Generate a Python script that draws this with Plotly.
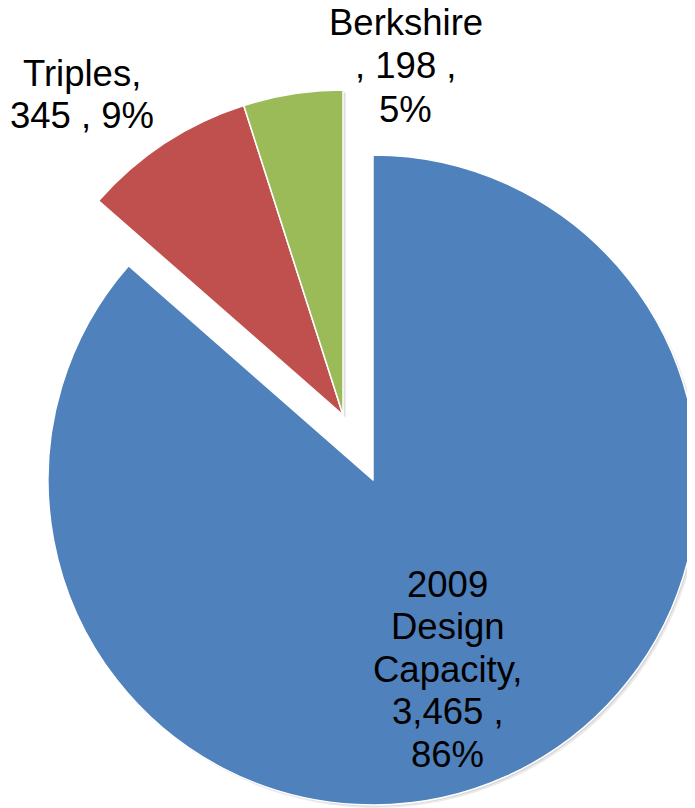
import plotly.graph_objects as go

# ---- data ----
names = ["2009 Design Capacity", "Triples", "Berkshire"]
values = [3465, 345, 198]
colors = ["#4F81BD", "#C0504D", "#9BBB59"]
label_templates = [
    "2009<br>Design<br>Capacity,<br>{v} ,<br>{p}%",
    "Triples,<br>{v} , {p}%",
    "Berkshire<br>, {v} ,<br>{p}%",
]

W, H = 695, 808
OFF = 8  # page body margin
total = sum(values)
pcts = [round(v / total * 100) for v in values]
texts = [t.format(v=f"{v:,}", p=p) for t, v, p in zip(label_templates, values, pcts)]

def clamp(a):
    return max(0.0, min(1.0, a))

def dom(cx, cy, r):
    cx -= OFF
    cy -= OFF
    return dict(x=[clamp((cx - r) / W), clamp((cx + r) / W)],
                y=[clamp(1 - (cy + r) / H), clamp(1 - (cy - r) / H)])

R = 325
BLUE_C = (373, 480)
GROUP_C = (343, 415)
transparent = "rgba(0,0,0,0)"

fig = go.Figure()

# soft shadow layers
for dx, dy, op in [(3, 3, 0.08), (1.5, 1.5, 0.10)]:
    fig.add_trace(go.Pie(
        labels=names, values=values, sort=False, direction="clockwise", rotation=0,
        marker=dict(colors=[f"rgba(0,0,0,{op})", transparent, transparent], line=dict(width=0)),
        textinfo="none", hoverinfo="skip", showlegend=False,
        domain=dom(BLUE_C[0] + dx, BLUE_C[1] + dy, R),
    ))
    fig.add_trace(go.Pie(
        labels=names, values=values, sort=False, direction="clockwise", rotation=0,
        marker=dict(colors=[transparent, f"rgba(0,0,0,{op})", f"rgba(0,0,0,{op})"], line=dict(width=0)),
        textinfo="none", hoverinfo="skip", showlegend=False,
        domain=dom(GROUP_C[0] + dx, GROUP_C[1] + dy, R),
    ))

# main slice (blue)
fig.add_trace(go.Pie(
    labels=names, values=values, sort=False, direction="clockwise", rotation=0,
    marker=dict(colors=[colors[0], transparent, transparent],
                line=dict(color=["white", transparent, transparent], width=[1.5, 0, 0])),
    textinfo="none", hoverinfo="label+value+percent", showlegend=False,
    domain=dom(BLUE_C[0], BLUE_C[1], R),
))
# exploded group (red + green)
fig.add_trace(go.Pie(
    labels=names, values=values, sort=False, direction="clockwise", rotation=0,
    marker=dict(colors=[transparent, colors[1], colors[2]],
                line=dict(color=[transparent, "white", "white"], width=[0, 1.5, 1.5])),
    textinfo="none", hoverinfo="label+value+percent", showlegend=False,
    domain=dom(GROUP_C[0], GROUP_C[1], R),
))

# label block positions: (x center, y of first line, line spacing)
label_pos = [(448, 584, 42.5), (82, 74, 41.5), (406, 22, 43.5)]
for txt, (x, y0, dy) in zip(texts, label_pos):
    for i, line in enumerate(txt.split("<br>")):
        fig.add_annotation(
            x=(x - OFF) / W, y=1 - (y0 + i * dy - OFF) / H, xref="paper", yref="paper",
            text=line, showarrow=False, align="center",
            xanchor="center", yanchor="middle",
            font=dict(family="Liberation Sans, Arial, sans-serif", size=36.5, color="black"),
        )

fig.update_layout(
    width=W, height=H,
    margin=dict(l=0, r=0, t=0, b=0),
    paper_bgcolor="white", plot_bgcolor="white",
    showlegend=False,
)

fig.write_html("out.html")
